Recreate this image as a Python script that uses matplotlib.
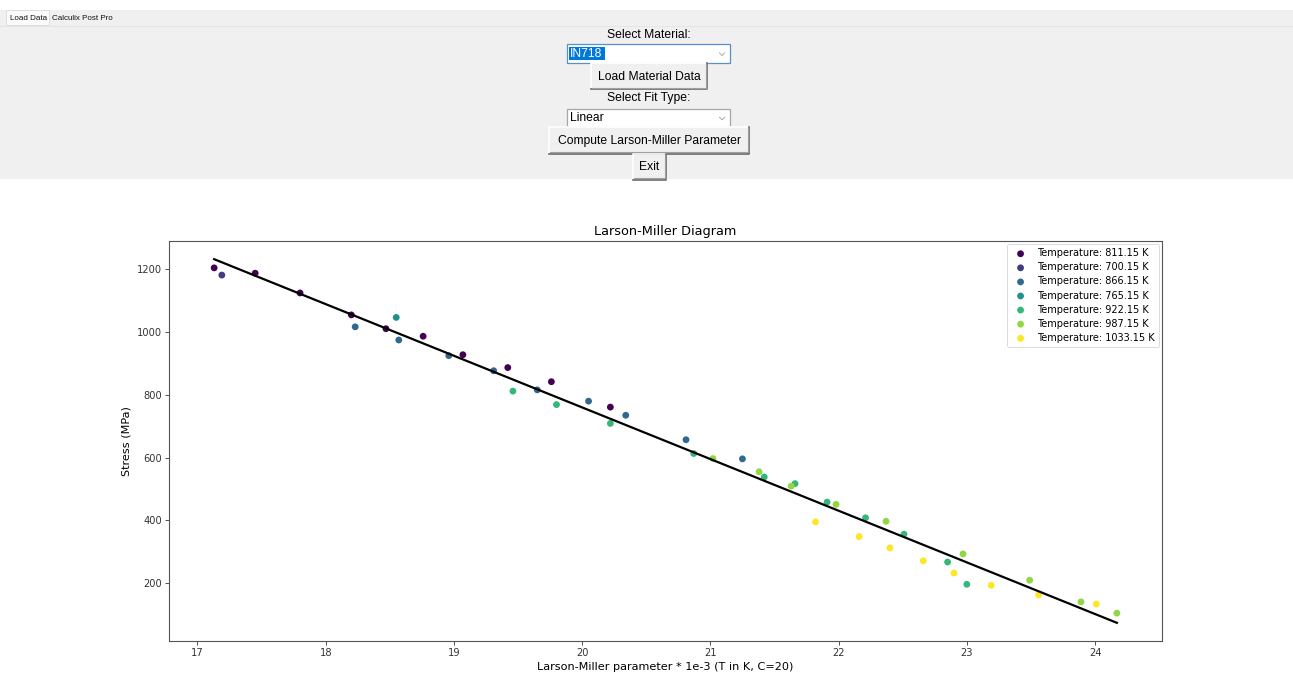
import numpy as np
import matplotlib
matplotlib.use("Agg")
import matplotlib.pyplot as plt
from matplotlib.patches import Rectangle

# ---- rupture data: Larson-Miller parameter (x1e-3) and stress (MPa) per test temperature
temperatures = ["811.15", "700.15", "866.15", "765.15", "922.15", "987.15", "1033.15"]

lmp_811 = [17.13, 17.45, 17.80, 18.20, 18.47, 18.76, 19.07, 19.42, 19.76, 20.22]
stress_811 = [1205, 1188, 1125, 1055, 1011, 987, 928, 887, 842, 761]

lmp_700 = [17.19]
stress_700 = [1182]

lmp_866 = [18.23, 18.57, 18.96, 19.31, 19.65, 20.05, 20.34, 20.81, 21.25]
stress_866 = [1017, 975, 925, 877, 816, 780, 735, 657, 596]

lmp_765 = [18.55]
stress_765 = [1047]

lmp_922 = [19.46, 19.80, 20.22, 20.87, 21.42, 21.66, 21.91, 22.21, 22.51, 22.85, 23.00]
stress_922 = [812, 769, 709, 613, 538, 517, 458, 408, 356, 267, 196]

lmp_987 = [21.02, 21.38, 21.63, 21.98, 22.37, 22.97, 23.49, 23.89, 24.17]
stress_987 = [597, 555, 509, 451, 397, 293, 209, 140, 104]

lmp_1033 = [21.82, 22.16, 22.40, 22.66, 22.90, 23.19, 23.56, 24.01]
stress_1033 = [395, 348, 312, 271, 232, 193, 162, 133]

series_lmp = [lmp_811, lmp_700, lmp_866, lmp_765, lmp_922, lmp_987, lmp_1033]
series_stress = [stress_811, stress_700, stress_866, stress_765, stress_922, stress_987, stress_1033]

# linear fit of stress against LMP (slope, intercept)
fit_coeffs = [-164.7, 4054.0]

W, H = 1293, 682
fig = plt.figure(figsize=(W / 100, H / 100), dpi=100)
fig.patch.set_facecolor("white")

# ---- application window chrome, drawn in pixel coordinates
ui = fig.add_axes([0, 0, 1, 1], zorder=0)
ui.set_xlim(0, W)
ui.set_ylim(H, 0)
ui.axis("off")

ui_font = "Liberation Sans"
panel_grey = "#f0f0f0"

ui.add_patch(Rectangle((0, 10), W, 169, facecolor=panel_grey, edgecolor="none"))
# notebook tabs
ui.add_patch(Rectangle((6, 10), 43, 15, facecolor="#fbfbfb", edgecolor="#d9d9d9", lw=0.6))
ui.text(10, 18, "Load Data", fontsize=5.8, family=ui_font, va="center", ha="left", color="#111")
ui.text(52, 18.5, "Calculix Post Pro", fontsize=5.8, family=ui_font, va="center", ha="left", color="#111")
ui.plot([0, W], [25.5, 25.5], color="#e3e3e3", lw=0.6)


def label(y, text):
    ui.text(649, y, text, fontsize=8.7, family=ui_font, ha="center", va="center", color="#000")


def combobox(x0, y0, x1, y1, text, border, selected=False):
    ui.add_patch(Rectangle((x0, y0), x1 - x0, y1 - y0, facecolor="white", edgecolor=border, lw=0.9))
    if selected:
        ui.add_patch(Rectangle((x0 + 1.5, y0 + 2.5), 36, y1 - y0 - 5, facecolor="#0078d7", edgecolor="none"))
        ui.text(x0 + 3, (y0 + y1) / 2 + 0.5, text, fontsize=8.7, family=ui_font, ha="left", va="center", color="white")
    else:
        ui.text(x0 + 3, (y0 + y1) / 2 + 0.5, text, fontsize=8.7, family=ui_font, ha="left", va="center", color="#000")
    cx, cy = x1 - 8, (y0 + y1) / 2 + 1
    ui.plot([cx - 2.5, cx, cx + 2.5], [cy - 1.3, cy + 1.3, cy - 1.3], color="#9a9a9a", lw=0.6)


def button(x0, y0, x1, y1, text):
    ui.add_patch(Rectangle((x0, y0), x1 - x0, y1 - y0, facecolor="#f0f0f0", edgecolor="none"))
    ui.plot([x0, x0, x1], [y1, y0, y0], color="#ffffff", lw=1.2)
    ui.plot([x0, x1, x1], [y1, y1, y0], color="#6a6a6a", lw=1.2)
    ui.plot([x0 + 1, x1 - 1.2, x1 - 1.2], [y1 - 1.2, y1 - 1.2, y0 + 1], color="#a0a0a0", lw=0.8)
    ui.text((x0 + x1) / 2, (y0 + y1) / 2 + 0.5, text, fontsize=8.7, family=ui_font,
            ha="center", va="center", color="#000")


label(35.5, "Select Material:")
combobox(567, 44, 730, 62.5, "IN718", "#5a8fc8", selected=True)
button(591, 63, 707, 89, "Load Material Data")
label(98.5, "Select Fit Type:")
combobox(567, 108.5, 730, 126.5, "Linear", "#a6a6a6")
button(549, 127, 749, 153.5, "Compute Larson-Miller Parameter")
button(633, 153.5, 666, 179.5, "Exit")

# ---- Larson-Miller diagram
ax = fig.add_axes([169 / W, 1 - 641 / H, (1162 - 169) / W, (641 - 241) / H], zorder=1)
colors = plt.cm.viridis(np.linspace(0, 1, len(temperatures)))
for temp, xs, ys, c in zip(temperatures, series_lmp, series_stress, colors):
    ax.scatter(xs, ys, s=24, color=c, label=f"Temperature: {temp} K", zorder=3, edgecolors="none")

all_lmp = np.concatenate([np.asarray(v, float) for v in series_lmp])
x_fit = np.array([all_lmp.min(), all_lmp.max()])
ax.plot(x_fit, np.polyval(fit_coeffs, x_fit), color="black", lw=1.6, zorder=4)

ax.set_title("Larson-Miller Diagram", fontsize=9.3, pad=4.5)
ax.set_xlabel("Larson-Miller parameter * 1e-3 (T in K, C=20)", fontsize=8.1, labelpad=2.5)
ax.set_ylabel("Stress (MPa)", fontsize=8.1, labelpad=4)
ax.set_xticks(range(17, 25))
ax.set_yticks(range(200, 1201, 200))
ax.tick_params(labelsize=7.1, length=2.6, width=0.6, pad=2.5, colors="#333333")
for sp in ax.spines.values():
    sp.set_color("#555555")
    sp.set_linewidth(0.8)

leg = ax.legend(loc="upper right", fontsize=7.0, borderaxespad=0.3, handletextpad=0.8,
                handlelength=1.8, labelspacing=0.42, borderpad=0.45, scatterpoints=1)
leg.get_frame().set_linewidth(0.6)

fig.savefig("out.png", dpi=100)
